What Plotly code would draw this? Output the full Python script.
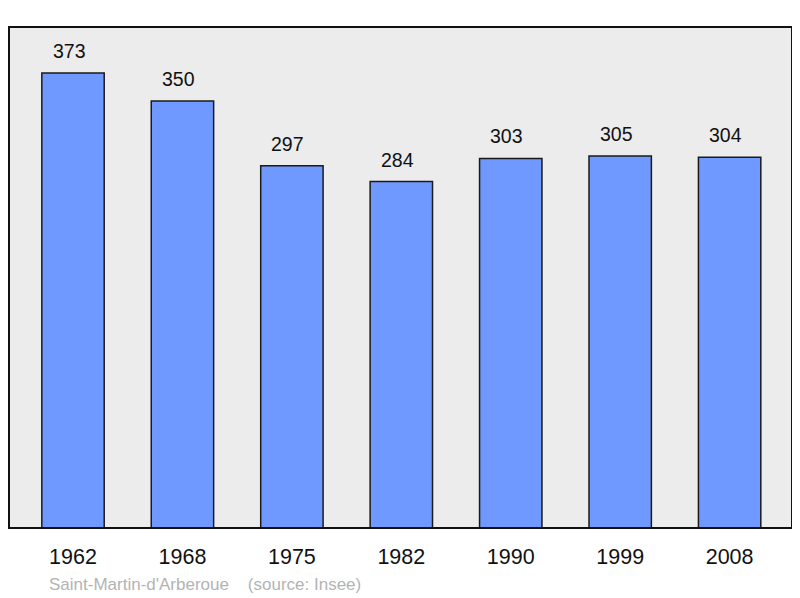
import plotly.graph_objects as go

years = ["1962", "1968", "1975", "1982", "1990", "1999", "2008"]
population = [373, 350, 297, 284, 303, 305, 304]
source_text = "Saint-Martin-d'Arberoue    (source: Insee)"

FONT = "Liberation Sans, Arial"

fig = go.Figure()
fig.add_trace(go.Bar(
    x=list(range(len(years))), y=population,
    width=0.57,
    marker=dict(color="#7099ff", line=dict(color="#1a1a1a", width=1.5)),
    hoverinfo="skip",
))

for i, v in enumerate(population):
    fig.add_annotation(x=i, y=v, text=str(v), showarrow=False, yanchor="bottom",
                       yshift=9, xshift=-4,
                       font=dict(size=19.5, color="#111111", family=FONT))

fig.add_annotation(x=0, xref="paper", xanchor="left", xshift=38, y=-0.112, yref="paper",
                   yanchor="middle", text=source_text, showarrow=False,
                   font=dict(size=17, color="#b3b3b3", family=FONT))

fig.add_shape(type="rect", xref="paper", yref="paper", x0=0, y0=0, x1=1, y1=1,
              line=dict(color="#111111", width=2), layer="above")

fig.update_layout(
    width=792, height=590,
    margin=dict(l=1, r=8, t=19, b=70),
    paper_bgcolor="white", plot_bgcolor="#ececec",
    showlegend=False,
    xaxis=dict(range=[-0.585, 6.57], tickmode="array", tickvals=list(range(len(years))),
               ticktext=years, showgrid=False, zeroline=False, ticks="",
               tickfont=dict(size=21.5, color="#111111", family=FONT),
               ticklabelstandoff=13),
    yaxis=dict(range=[0, 410.7], showgrid=False, zeroline=False, showticklabels=False, ticks=""),
)

fig.write_html("out.html")
